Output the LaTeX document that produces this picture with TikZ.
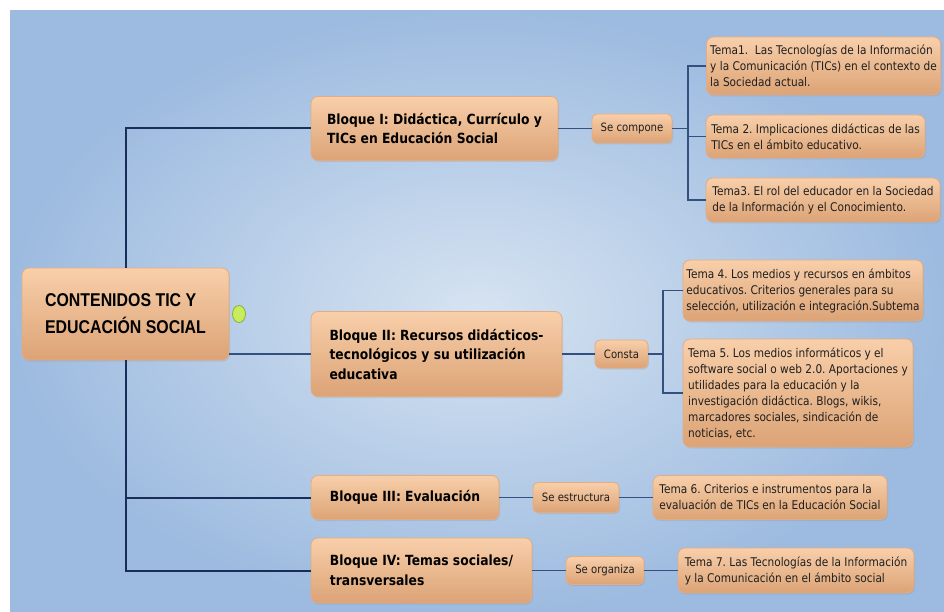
\documentclass[tikz,border=0pt]{standalone}
\usepackage{fontspec}
\newfontfamily\tah[FakeStretch=0.88]{DejaVu Sans}
\newfontfamily\arc[FakeStretch=0.86]{Liberation Sans}
\usetikzlibrary{shadows,shapes.geometric}
\definecolor{bgin}{RGB}{214,227,241}
\definecolor{bgout}{RGB}{157,187,224}
\definecolor{boxtop}{RGB}{248,207,170}
\definecolor{boxbot}{RGB}{220,163,118}
\definecolor{boxline}{RGB}{228,172,128}
\definecolor{trunk}{RGB}{24,46,88}
\definecolor{branch}{RGB}{52,80,126}
\definecolor{dotfill}{RGB}{200,236,92}
\definecolor{dotline}{RGB}{138,176,58}
\frenchspacing
\begin{document}
\begin{tikzpicture}[x=1pt,y=-1pt,
  box/.style={rounded corners=7pt, draw=boxline, line width=0.8pt,
    top color=boxtop, bottom color=boxbot, align=left, inner sep=0pt,
    drop shadow={opacity=0.18, shadow xshift=1pt, shadow yshift=-1.5pt}},
  mainbox/.style={box, font=\arc\bfseries\fontsize{18.5}{27}\selectfont},
  blockbox/.style={box, font=\tah\bfseries\fontsize{14}{19.5}\selectfont},
  linkbox/.style={box, rounded corners=5pt, font=\tah\fontsize{11.5}{14}\selectfont, text=black!88},
  temabox/.style={box, font=\tah\fontsize{12}{16}\selectfont, text=black!88},
  trunkline/.style={draw=trunk, line width=2pt},
  branchline/.style={draw=branch, line width=1.4pt}]
\useasboundingbox (0,0) rectangle (944,612);
\fill[inner color=bgin, outer color=bgout] (10,11) rectangle (944,612);

% nodes
\node[mainbox, minimum width=207, minimum height=92] (main) at (125.5,314) {CONTENIDOS TIC Y\\EDUCACIÓN SOCIAL};
\node[draw=dotline, fill=dotfill, ellipse, minimum width=13, minimum height=17, inner sep=0pt, line width=0.8pt] (dot) at (239,314) {};

\node[blockbox, minimum width=247, minimum height=64] (B1) at (434.5,128.5) {Bloque I: Didáctica, Currículo y\\TICs en Educación Social};
\node[blockbox, minimum width=251, minimum height=85] (B2) at (436.5,354) {Bloque II: Recursos didácticos-\\tecnológicos y su utilización\\educativa};
\node[blockbox, minimum width=188, minimum height=44] (B3) at (405,497.5) {Bloque III: Evaluación};
\node[blockbox, minimum width=221, minimum height=65] (B4) at (421.5,570.5) {Bloque IV: Temas sociales/\\transversales};

\node[linkbox, minimum width=80, minimum height=29] (SC) at (632,128.5) {Se compone};
\node[linkbox, minimum width=53, minimum height=28] (CO) at (621.5,354) {Consta};
\node[linkbox, minimum width=86, minimum height=30] (SE) at (576,497.5) {Se estructura};
\node[linkbox, minimum width=78, minimum height=28] (SO) at (605,570.5) {Se organiza};

\node[temabox, minimum width=234, minimum height=58] (T1) at (823.5,66) {Tema1.\ \ Las Tecnologías de la Información\\y la Comunicación (TICs) en el contexto de\\la Sociedad actual.};
\node[temabox, minimum width=219, minimum height=43] (T2) at (815.5,136.5) {Tema 2. Implicaciones didácticas de las\\TICs en el ámbito educativo.};
\node[temabox, minimum width=234, minimum height=44] (T3) at (823,200) {Tema3. El rol del educador en la Sociedad\\de la Información y el Conocimiento.};
\node[temabox, minimum width=240, minimum height=61] (T4) at (803,290.5) {Tema 4. Los medios y recursos en ámbitos\\educativos. Criterios generales para su\\selección, utilización e integración.Subtema};
\node[temabox, minimum width=230, minimum height=108] (T5) at (798,393) {Tema 5. Los medios informáticos y el\\software social o web 2.0. Aportaciones y\\utilidades para la educación y la\\investigación didáctica. Blogs, wikis,\\marcadores sociales, sindicación de\\noticias, etc.};
\node[temabox, minimum width=234, minimum height=44] (T6) at (770,497.5) {Tema 6. Criterios e instrumentos para la\\evaluación de TICs en la Educación Social};
\node[temabox, minimum width=236, minimum height=45] (T7) at (796,570.5) {Tema 7. Las Tecnologías de la Información\\y la Comunicación en el ámbito social};

\coordinate (j1) at (688,128.5);
\coordinate (j2) at (663,354);

% connectors
\draw[trunkline] (B1.west) -| (main.north);
\draw[trunkline] (main.south) |- (B4.west);
\draw[trunkline] (main.south |- B3.west) -- (B3.west);
\draw[branchline] (main.east |- B2.west) -- (B2.west);

\draw[branchline] (B1.east) -- (SC.west);
\draw[branchline] (SC.east) -- (j1);
\draw[branchline] (T1.west) -| (j1) |- (T3.west);
\draw[branchline] (j1 |- T2.west) -- (T2.west);

\draw[branchline] (B2.east) -- (CO.west);
\draw[branchline] (CO.east) -- (j2);
\draw[branchline] (T4.west) -| (j2) |- (T5.west);

\draw[branchline] (B3.east) -- (SE.west);
\draw[branchline] (SE.east) -- (T6.west);
\draw[branchline] (B4.east) -- (SO.west);
\draw[branchline] (SO.east) -- (T7.west);
\end{tikzpicture}
\end{document}
